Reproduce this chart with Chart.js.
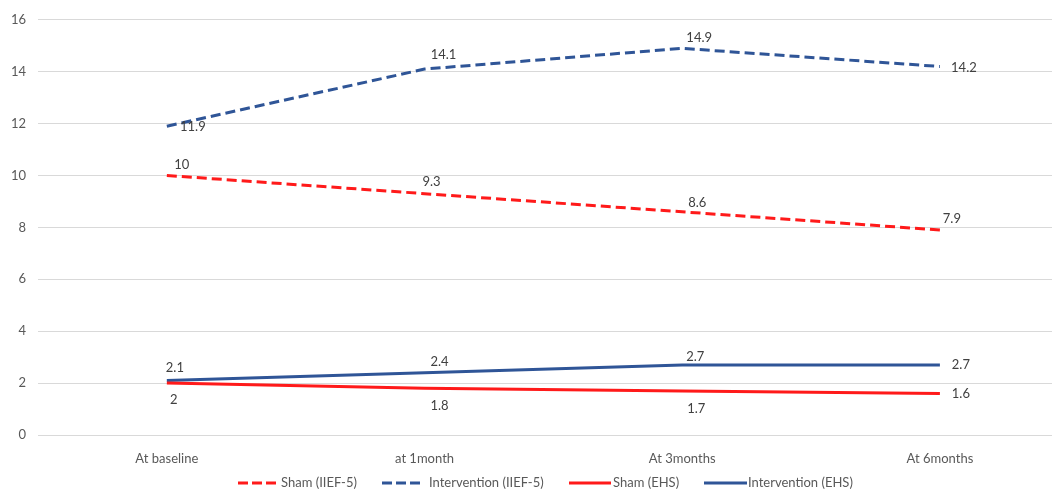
<!DOCTYPE html>
<html>
<head>
<meta charset="utf-8">
<script src="https://cdn.jsdelivr.net/npm/chart.js@4.4.1/dist/chart.umd.min.js"></script>
<style>
  html, body { margin: 0; padding: 0; background: #ffffff; }
  #wrap { width: 1052px; height: 489px; position: relative; }
</style>
</head>
<body>
<div id="wrap"><canvas id="c" width="1052" height="489"></canvas></div>
<script>
// ---- data ----
const categories = ["At baseline", "at 1month", "At 3months", "At 6months"];
const shamIIEF = [10, 9.3, 8.6, 7.9];
const interventionIIEF = [11.9, 14.1, 14.9, 14.2];
const shamEHS = [2, 1.8, 1.7, 1.6];
const interventionEHS = [2.1, 2.4, 2.7, 2.7];
const yTicks = [0, 2, 4, 6, 8, 10, 12, 14, 16];

// ---- styling / label placement (pixel offsets of value labels from points) ----
const RED = '#FF1A1A';
const BLUE = '#2F5597';
const TEXT = '#404040';
const FONT = 'Lato, "Open Sans", sans-serif';
const labelOffsets = [
  [[15, -11], [7, -12], [15, -9], [12, -11]],   // Sham (IIEF-5)
  [[26, 1], [19, -14], [17, -11], [24, 1]],     // Intervention (IIEF-5)
  [[7, 17], [15, 18], [14, 18], [21, 0]],       // Sham (EHS)
  [[8, -13], [15, -11], [13, -8], [21, 0]]      // Intervention (EHS)
];
const legendSampleX = [238, 382, 569, 704];
const legendSampleLen = [38, 40, 42, 43];
const legendTextX = [281, 429, 613, 748];

function toPoints(arr) { return arr.map((v, i) => ({ x: i, y: v })); }

const valueLabels = {
  id: 'valueLabels',
  afterDatasetsDraw(chart) {
    const ctx = chart.ctx;
    ctx.save();
    ctx.font = '13px ' + FONT;
    ctx.fillStyle = TEXT;
    ctx.textAlign = 'center';
    ctx.textBaseline = 'middle';
    chart.data.datasets.forEach((ds, di) => {
      const meta = chart.getDatasetMeta(di);
      meta.data.forEach((pt, i) => {
        const off = labelOffsets[di][i];
        ctx.fillText(String(ds.data[i].y), pt.x + off[0], pt.y + off[1]);
      });
    });
    ctx.restore();
  }
};

const customLegend = {
  id: 'customLegend',
  afterDraw(chart) {
    const ctx = chart.ctx;
    const y = 483;
    ctx.save();
    ctx.font = '13px ' + FONT;
    ctx.textBaseline = 'middle';
    ctx.textAlign = 'left';
    chart.data.datasets.forEach((ds, i) => {
      const x0 = legendSampleX[i];
      const len = legendSampleLen[i];
      ctx.strokeStyle = ds.borderColor;
      ctx.lineWidth = 3;
      ctx.setLineDash(ds.borderDash && ds.borderDash.length ? [10, 4] : []);
      ctx.beginPath();
      ctx.moveTo(x0, y);
      ctx.lineTo(x0 + len, y);
      ctx.stroke();
      ctx.setLineDash([]);
      ctx.fillStyle = '#595959';
      ctx.fillText(ds.label, legendTextX[i], y);
    });
    ctx.restore();
  }
};

new Chart(document.getElementById('c'), {
  type: 'line',
  data: {
    datasets: [
      { label: 'Sham (IIEF-5)', data: toPoints(shamIIEF), borderColor: RED, borderWidth: 3, borderDash: [10, 5], pointRadius: 0, fill: false, tension: 0 },
      { label: 'Intervention (IIEF-5)', data: toPoints(interventionIIEF), borderColor: BLUE, borderWidth: 3, borderDash: [10, 5], pointRadius: 0, fill: false, tension: 0 },
      { label: 'Sham (EHS)', data: toPoints(shamEHS), borderColor: RED, borderWidth: 3, pointRadius: 0, fill: false, tension: 0 },
      { label: 'Intervention (EHS)', data: toPoints(interventionEHS), borderColor: BLUE, borderWidth: 3, pointRadius: 0, fill: false, tension: 0 }
    ]
  },
  options: {
    responsive: false,
    animation: false,
    devicePixelRatio: 1,
    layout: { padding: { top: 19, right: 0, bottom: 20, left: 0 } },
    plugins: {
      legend: { display: false },
      tooltip: { enabled: false }
    },
    scales: {
      x: {
        type: 'linear',
        min: -0.5,
        max: 3.435,
        grid: { display: false },
        border: { display: false },
        afterBuildTicks(scale) { scale.ticks = categories.map((c, i) => ({ value: i })); },
        afterFit(scale) { scale.height = 34; },
        ticks: {
          autoSkip: false,
          maxRotation: 0,
          padding: 8,
          color: '#595959',
          font: { family: FONT, size: 13 },
          callback: (v) => categories[v]
        }
      },
      y: {
        min: 0,
        max: 16,
        afterBuildTicks(scale) { scale.ticks = yTicks.map(v => ({ value: v })); },
        afterFit(scale) { scale.width = 38; },
        grid: { color: '#D9D9D9', lineWidth: 1, drawTicks: false },
        border: { display: false },
        ticks: {
          padding: 12,
          color: '#595959',
          font: { family: FONT, size: 13 }
        }
      }
    }
  },
  plugins: [valueLabels, customLegend]
});
</script>
</body>
</html>
